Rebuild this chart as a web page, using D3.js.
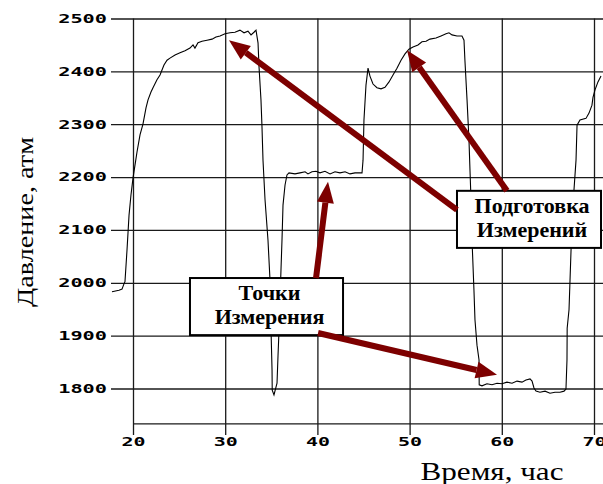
<!DOCTYPE html>
<html>
<head>
<meta charset="utf-8">
<script src="https://cdn.jsdelivr.net/npm/d3@7"></script>
<style>
  body { margin: 0; background: #fff; }
  svg { display: block; }
</style>
</head>
<body>
<div id="chart"></div>
<script>
// tick values
const xTicks = [20, 30, 40, 50, 60, 70];
const yTicks = [1800, 1900, 2000, 2100, 2200, 2300, 2400, 2500];

// pressure trace: time (h) and pressure (atm)
const timeH = [17.72, 18.48, 18.81, 19.02, 19.13, 19.35, 19.57, 19.78, 20.0, 20.22, 20.43, 20.76, 21.08, 21.41, 21.63, 21.95, 22.17, 22.6, 22.93, 23.36, 23.69, 24.01, 24.56, 25.1, 25.64, 26.18, 26.51, 26.72, 27.05, 27.48, 28.03, 28.57, 29.0, 29.44, 29.98, 30.52, 31.06, 31.6, 32.04, 32.47, 32.8, 33.12, 33.34, 33.56, 33.67, 33.88, 33.99, 34.1, 34.32, 34.64, 34.86, 34.97, 35.08, 35.1, 35.29, 35.62, 35.73, 35.84, 35.94, 36.05, 36.16, 36.27, 36.49, 36.7, 36.92, 37.57, 38.11, 38.66, 38.98, 39.41, 39.85, 40.28, 40.82, 41.37, 41.91, 42.45, 43.0, 43.54, 44.08, 44.84, 44.95, 45.05, 45.27, 45.49, 45.7, 46.03, 46.46, 46.9, 47.33, 47.77, 48.2, 48.63, 49.07, 49.5, 49.93, 50.37, 50.91, 51.34, 51.78, 52.21, 52.86, 53.41, 53.95, 54.27, 54.6, 55.14, 55.68, 55.9, 56.0, 56.23, 56.44, 56.55, 56.66, 56.77, 56.98, 57.09, 57.31, 57.53, 57.55, 57.85, 58.39, 58.94, 59.48, 60.02, 60.56, 61.11, 61.65, 62.19, 62.62, 63.06, 63.28, 63.49, 63.71, 64.14, 64.69, 65.23, 65.77, 66.31, 66.75, 66.96, 67.07, 67.09, 67.29, 67.4, 67.51, 67.61, 67.83, 68.05, 68.16, 68.48, 69.13, 69.46, 69.78, 69.89, 70.11, 70.43, 70.76];
const pressure = [1983, 1986, 1988, 1998, 2002, 2062, 2128, 2166, 2198, 2223, 2247, 2280, 2300, 2331, 2346, 2361, 2369, 2384, 2393, 2412, 2421, 2425, 2431, 2435, 2439, 2444, 2450, 2444, 2454, 2457, 2459, 2461, 2465, 2467, 2471, 2473, 2474, 2478, 2473, 2476, 2469, 2474, 2478, 2454, 2408, 2346, 2295, 2232, 2157, 2081, 2005, 1911, 1835, 1797, 1788, 1810, 1863, 1911, 1967, 2024, 2081, 2147, 2185, 2204, 2208, 2206, 2208, 2210, 2206, 2210, 2211, 2208, 2211, 2206, 2210, 2208, 2210, 2206, 2208, 2208, 2232, 2308, 2374, 2406, 2391, 2376, 2369, 2367, 2370, 2380, 2393, 2406, 2421, 2433, 2442, 2446, 2450, 2456, 2457, 2461, 2463, 2467, 2471, 2473, 2469, 2467, 2467, 2459, 2421, 2346, 2270, 2213, 2157, 2081, 1986, 1930, 1882, 1854, 1807, 1805, 1809, 1807, 1810, 1809, 1812, 1810, 1814, 1812, 1816, 1818, 1814, 1801, 1795, 1793, 1795, 1791, 1793, 1793, 1795, 1799, 1854, 1914, 1949, 2005, 2062, 2119, 2176, 2232, 2298, 2308, 2311, 2321, 2336, 2351, 2365, 2380, 2391];

const axisBase = 1733; // level of the bottom axis line

// annotation boxes: [t0, t1, pTop, pBottom] and their text lines
const boxPrep = [55.14, 70.76, 2174, 2066];
const boxPrepText = ["Подготовка", "Измерений"];
const boxMeas = [26.18, 42.78, 2009, 1901];
const boxMeasText = ["Точки", "Измерения"];

// arrows: [tStart, pStart, tTip, pTip]
const arrows = [
  [55.14, 2138, 30.41, 2459],
  [60.56, 2174, 49.72, 2440],
  [39.85, 2009, 41.15, 2191],
  [40.07, 1905, 59.48, 1826]
];

const W = 603, H = 484;
const svg = d3.select('#chart').append('svg')
  .attr('width', W)
  .attr('height', H);

const x = d3.scaleLinear().domain([20, 70]).range([133, 594]);
const y = d3.scaleLinear().domain([1800, 2500]).range([388.5, 18.5]);

const gridColor = '#1a1a1a';
const tickFont = "'DejaVu Sans Mono', monospace";

// horizontal grid + y labels
const gy = svg.append('g')
  .attr('transform', 'translate(111,0)')
  .call(d3.axisLeft(y).tickValues(yTicks).tickFormat(d3.format('d'))
    .tickSize(-(W - 111)).tickPadding(4));
gy.select('.domain').remove();
gy.selectAll('line').attr('stroke', gridColor).attr('stroke-width', 1.3);
gy.selectAll('text')
  .attr('font-family', tickFont)
  .attr('font-weight', 'bold')
  .attr('font-size', 12)
  .attr('fill', '#000')
  .attr('textLength', d => String(d).length * 12.2)
  .attr('lengthAdjust', 'spacingAndGlyphs');

// vertical grid + x labels
const gx = svg.append('g')
  .attr('transform', 'translate(0,435)')
  .call(d3.axisBottom(x).tickValues(xTicks).tickFormat(d3.format('d'))
    .tickSize(-(435 - 18.5)).tickPadding(4));
gx.select('.domain').remove();
gx.selectAll('line').attr('stroke', gridColor).attr('stroke-width', 1.3);
gx.selectAll('text')
  .attr('font-family', tickFont)
  .attr('font-weight', 'bold')
  .attr('font-size', 12)
  .attr('fill', '#000')
  .attr('y', 7)
  .attr('dy', '0.35em')
  .attr('textLength', d => String(d).length * 12)
  .attr('lengthAdjust', 'spacingAndGlyphs');

// bottom axis line
svg.append('line')
  .attr('x1', x(20)).attr('x2', W)
  .attr('y1', y(axisBase)).attr('y2', y(axisBase))
  .attr('stroke', gridColor)
  .attr('stroke-width', 1.3);

// the pressure trace
const pts = timeH.map((t, i) => [t, pressure[i]]);
svg.append('path')
  .datum(pts)
  .attr('fill', 'none')
  .attr('stroke', '#000')
  .attr('stroke-width', 1.1)
  .attr('d', d3.line().x(d => x(d[0])).y(d => y(d[1])));

// axis titles
svg.append('text')
  .attr('transform', 'translate(33,222) rotate(-90)')
  .attr('text-anchor', 'middle')
  .attr('font-family', "'Liberation Serif', 'Times New Roman', serif")
  .attr('font-size', 24)
  .attr('fill', '#000')
  .attr('textLength', 170)
  .attr('lengthAdjust', 'spacingAndGlyphs')
  .text('Давление, атм');

svg.append('text')
  .attr('x', 492)
  .attr('y', 480)
  .attr('text-anchor', 'middle')
  .attr('font-family', "'Liberation Serif', 'Times New Roman', serif")
  .attr('font-size', 25)
  .attr('fill', '#000')
  .attr('textLength', 143)
  .attr('lengthAdjust', 'spacingAndGlyphs')
  .text('Время, час');

// annotation boxes
function drawBox(b, lines) {
  const x0 = x(b[0]), x1 = x(b[1]), y0 = y(b[2]), y1 = y(b[3]);
  svg.append('rect')
    .attr('x', x0).attr('y', y0)
    .attr('width', x1 - x0).attr('height', y1 - y0)
    .attr('fill', '#fff')
    .attr('stroke', '#000')
    .attr('stroke-width', 2);
  const cx = (x0 + x1) / 2 + 3;
  lines.forEach((s, i) => {
    svg.append('text')
      .attr('x', cx)
      .attr('y', y0 + 22 + i * 24)
      .attr('text-anchor', 'middle')
      .attr('font-family', "'Liberation Serif', 'Times New Roman', serif")
      .attr('font-weight', 'bold')
      .attr('font-size', 22)
      .attr('fill', '#000')
      .text(s);
  });
}
drawBox(boxPrep, boxPrepText);
drawBox(boxMeas, boxMeasText);

// arrows
const arrowColor = '#7d0000';
arrows.forEach(a => {
  const sx = x(a[0]), sy = y(a[1]), tx = x(a[2]), ty = y(a[3]);
  const ang = Math.atan2(ty - sy, tx - sx);
  const headLen = 21, headHalf = 8.5;
  const bx = tx - headLen * Math.cos(ang), by = ty - headLen * Math.sin(ang);
  svg.append('line')
    .attr('x1', sx).attr('y1', sy)
    .attr('x2', bx).attr('y2', by)
    .attr('stroke', arrowColor)
    .attr('stroke-width', 6);
  const nx = -Math.sin(ang), ny = Math.cos(ang);
  svg.append('polygon')
    .attr('points', [
      [tx, ty],
      [bx + nx * headHalf, by + ny * headHalf],
      [bx - nx * headHalf, by - ny * headHalf]
    ].map(p => p.join(',')).join(' '))
    .attr('fill', arrowColor);
});
</script>
</body>
</html>
